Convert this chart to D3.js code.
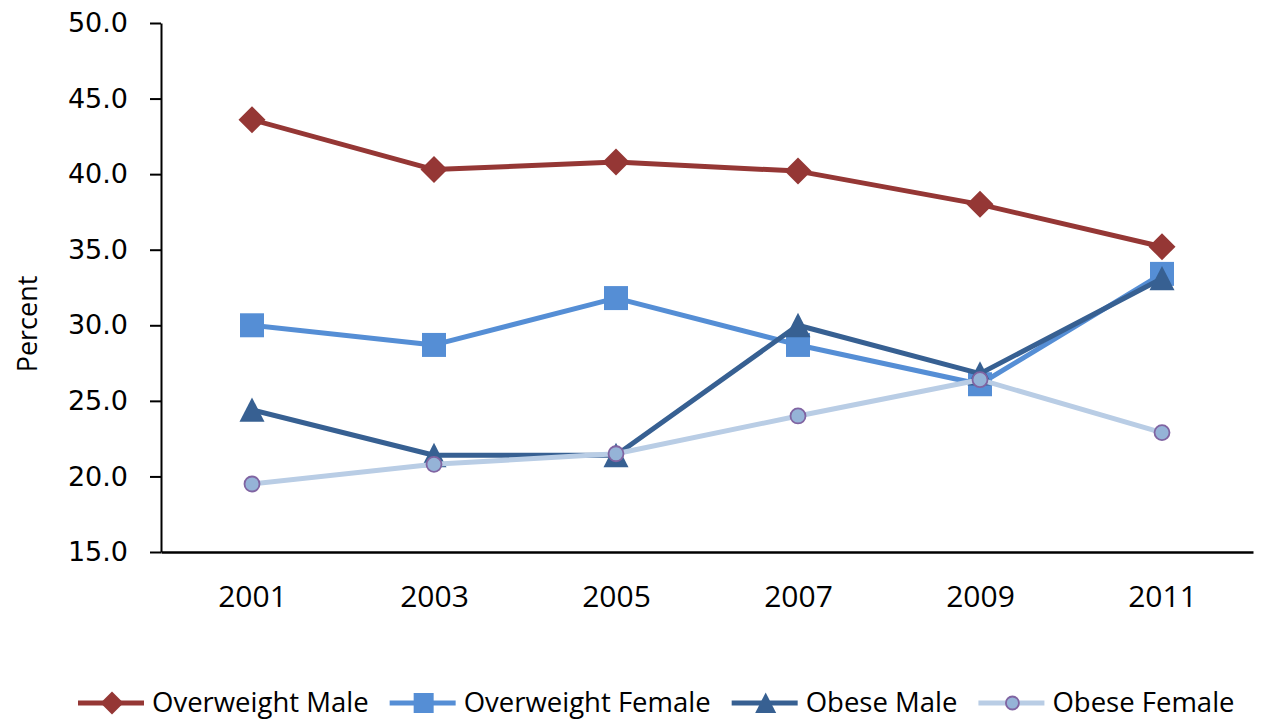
<!DOCTYPE html>
<html>
<head>
<meta charset="utf-8">
<script src="https://cdn.jsdelivr.net/npm/d3@7"></script>
<style>
  html, body { margin: 0; padding: 0; background: #fff; }
  svg { display: block; }
</style>
</head>
<body>
<svg id="chart" width="1261" height="719"></svg>
<script>
// Survey years on the horizontal axis
const years = ["2001", "2003", "2005", "2007", "2009", "2011"];

// Percent of population by group
const overweightMale   = [43.6, 40.3, 40.8, 40.2, 38.0, 35.2];
const overweightFemale = [30.0, 28.7, 31.8, 28.7, 26.1, 33.4];
const obeseMale        = [24.4, 21.4, 21.4, 30.0, 26.8, 33.1];
const obeseFemale      = [19.5, 20.8, 21.5, 24.0, 26.4, 22.9];

const seriesNames = ["Overweight Male", "Overweight Female", "Obese Male", "Obese Female"];
const yTicks = [15, 20, 25, 30, 35, 40, 45, 50];

const series = [
  { name: seriesNames[0], values: overweightMale,   line: "#953735", fill: "#953735", stroke: "none",    marker: "diamond" },
  { name: seriesNames[1], values: overweightFemale, line: "#558ed5", fill: "#558ed5", stroke: "none",    marker: "square" },
  { name: seriesNames[2], values: obeseMale,        line: "#376092", fill: "#376092", stroke: "none",    marker: "triangle" },
  { name: seriesNames[3], values: obeseFemale,      line: "#b9cde5", fill: "#95b3d7", stroke: "#8064a2", marker: "circle" }
];

const svg = d3.select("#chart");
const plot = { left: 161, right: 1253, top: 23, bottom: 552 };

const x = d3.scalePoint().domain(years).range([plot.left, plot.right]).padding(0.5);
const y = d3.scaleLinear().domain([15, 50]).range([plot.bottom, plot.top]);

// Y axis
const yAxis = svg.append("g")
  .attr("transform", `translate(${plot.left},0)`)
  .call(d3.axisLeft(y).tickValues(yTicks).tickFormat(d3.format(".1f"))
    .tickSize(11).tickSizeOuter(0).tickPadding(22));
yAxis.select(".domain").attr("stroke", "#000").attr("stroke-width", 2);
yAxis.selectAll(".tick line").attr("stroke", "#000").attr("stroke-width", 2);
yAxis.selectAll(".tick text")
  .attr("font-family", "'DejaVu Sans', Verdana, sans-serif")
  .attr("font-size", 27)
  .attr("fill", "#000");

// X axis
const xAxis = svg.append("g")
  .attr("transform", `translate(0,${plot.bottom})`)
  .call(d3.axisBottom(x).tickSize(0).tickSizeOuter(0));
xAxis.select(".domain").attr("stroke", "#000").attr("stroke-width", 2.5);
xAxis.selectAll(".tick text")
  .attr("font-family", "'Open Sans', sans-serif")
  .attr("font-size", 30)
  .attr("fill", "#000")
  .attr("y", 55)
  .attr("dy", 0);

// Y axis title
svg.append("text")
  .attr("transform", "translate(37,324) rotate(-90)")
  .attr("text-anchor", "middle")
  .attr("font-family", "'Open Sans', sans-serif")
  .attr("font-size", 27)
  .attr("fill", "#000")
  .text("Percent");

// Marker shapes
function markerPath(type, s) {
  if (type === "diamond") return `M0,${-s}L${s},0L0,${s}L${-s},0Z`;
  if (type === "square") return `M${-s},${-s}H${s}V${s}H${-s}Z`;
  if (type === "triangle") return `M0,${-s}L${s},${s * 0.95}H${-s}Z`;
  return null;
}
function drawMarker(g, s, cx, cy, size) {
  if (s.marker === "circle") {
    g.append("circle").attr("cx", cx).attr("cy", cy).attr("r", size)
      .attr("fill", s.fill).attr("stroke", s.stroke).attr("stroke-width", 1.8);
  } else {
    g.append("path").attr("transform", `translate(${cx},${cy})`)
      .attr("d", markerPath(s.marker, size)).attr("fill", s.fill);
  }
}
const markerSize = { diamond: 13.5, square: 12, triangle: 12.5, circle: 7.5 };
const legendMarkerSize = { diamond: 11.5, square: 10, triangle: 10.5, circle: 6.5 };

const line = d3.line().x((d, i) => x(years[i])).y(d => y(d));

series.forEach(s => {
  const g = svg.append("g");
  g.append("path").datum(s.values)
    .attr("d", line)
    .attr("fill", "none")
    .attr("stroke", s.line)
    .attr("stroke-width", 5)
    .attr("stroke-linejoin", "round");
  s.values.forEach((v, i) => drawMarker(g, s, x(years[i]), y(v), markerSize[s.marker]));
});

// Legend
const legendY = 703;
let lx = 78;
series.forEach(s => {
  const g = svg.append("g");
  g.append("line").attr("x1", lx).attr("x2", lx + 66)
    .attr("y1", legendY).attr("y2", legendY)
    .attr("stroke", s.line).attr("stroke-width", 5);
  drawMarker(g, s, lx + 34, legendY, legendMarkerSize[s.marker]);
  const t = g.append("text")
    .attr("x", lx + 74).attr("y", legendY + 9)
    .attr("font-family", "'Open Sans', sans-serif")
    .attr("font-size", 27.5)
    .attr("fill", "#000")
    .text(s.name);
  lx += 74 + t.node().getComputedTextLength() + 21;
});
</script>
</body>
</html>
